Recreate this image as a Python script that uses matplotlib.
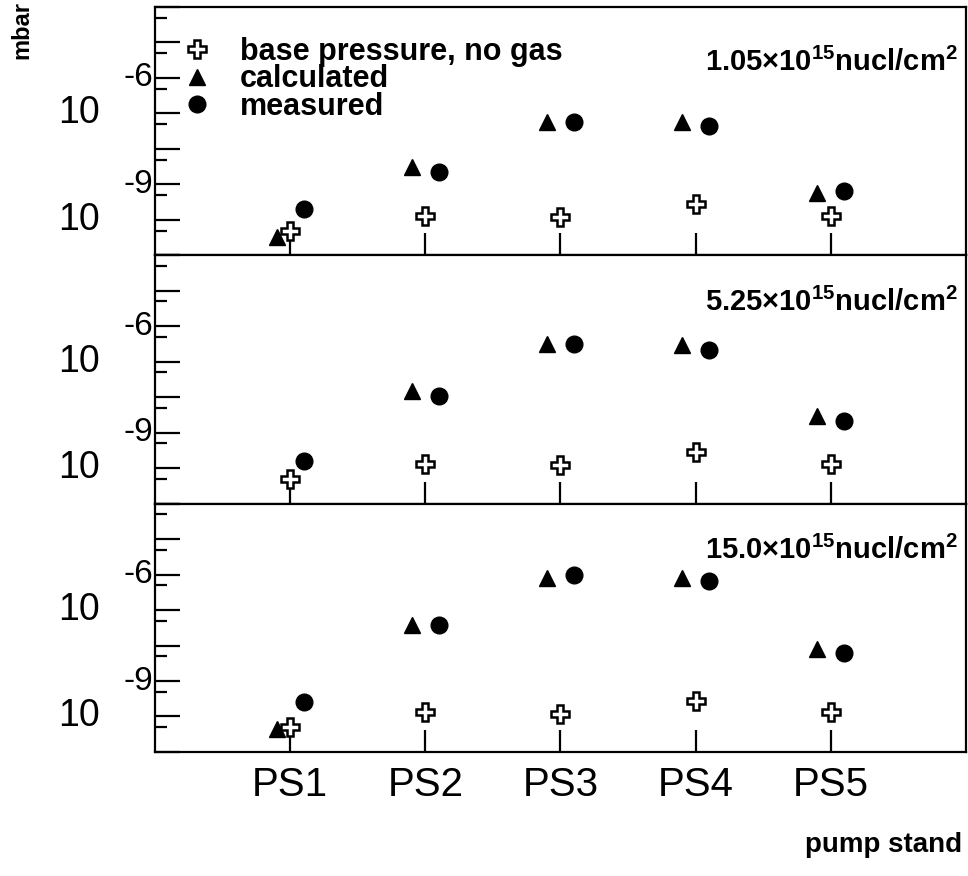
import numpy as np
import matplotlib
matplotlib.use("Agg")
import matplotlib.pyplot as plt
from matplotlib.ticker import LogLocator, NullFormatter, FixedLocator

plt.rcParams['font.family'] = ['Liberation Sans', 'DejaVu Sans']
plt.rcParams['mathtext.fontset'] = 'custom'
plt.rcParams['mathtext.bf'] = 'Liberation Sans:bold'
plt.rcParams['mathtext.rm'] = 'Liberation Sans'
plt.rcParams['mathtext.default'] = 'bf'

# pump stands
stands = ['PS1', 'PS2', 'PS3', 'PS4', 'PS5']

# base pressure without gas (mbar)
base = [5.0e-11, 1.3e-10, 1.2e-10, 2.8e-10, 1.3e-10]

# target thickness of each panel
targets = [r'1.05×10$^{15}$nucl/cm$^{2}$',
           r'5.25×10$^{15}$nucl/cm$^{2}$',
           r'15.0×10$^{15}$nucl/cm$^{2}$']

# calculated pressures (mbar), one list per target thickness
calc_105 = [3.2e-11, 3.0e-9, 5.6e-8, 5.6e-8, 5.6e-10]
calc_525 = [np.nan, 1.45e-8, 3.1e-7, 2.9e-7, 2.9e-9]
calc_150 = [4.4e-11, 3.8e-8, 7.9e-7, 7.9e-7, 8.1e-9]

# measured pressures (mbar)
meas_105 = [2.0e-10, 2.3e-9, 5.6e-8, 4.4e-8, 6.5e-10]
meas_525 = [1.55e-10, 1.1e-8, 3.1e-7, 2.1e-7, 2.1e-9]
meas_150 = [2.5e-10, 3.8e-8, 1.0e-6, 6.6e-7, 6.3e-9]

calc = [calc_105, calc_525, calc_150]
meas = [meas_105, meas_525, meas_150]

fig = plt.figure(figsize=(9.68, 8.76), dpi=100)
axes = fig.subplots(3, 1, sharex=True, gridspec_kw=dict(hspace=0))
fig.subplots_adjust(left=0.160, right=0.998, top=0.992, bottom=0.1416)

x = np.arange(1, len(stands) + 1)

for i, ax in enumerate(axes):
    ax.set_yscale('log')
    ax.set_ylim(1e-11, 1e-4)
    ax.set_xlim(0, 6)

    hb, = ax.plot(x, base, 'P', ms=13, mfc='white', mec='black', mew=1.8,
                  ls='none', zorder=4, label='base pressure, no gas')
    hc, = ax.plot(x - 0.1, calc[i], '^', ms=11, color='black', ls='none',
                  zorder=3, label='calculated')
    hm, = ax.plot(x + 0.1, meas[i], 'o', ms=12, color='black', ls='none',
                  zorder=3, label='measured')

    for s in ax.spines.values():
        s.set_linewidth(1.6)

    ax.yaxis.set_major_locator(LogLocator(base=10, numticks=20))
    ax.yaxis.set_minor_locator(LogLocator(base=10, subs=(5.0,), numticks=20))
    ax.yaxis.set_major_formatter(NullFormatter())
    ax.yaxis.set_minor_formatter(NullFormatter())
    ax.tick_params(axis='y', which='major', direction='in', length=18, width=1.6)
    ax.tick_params(axis='y', which='minor', direction='in', length=8.5, width=1.6)
    ax.tick_params(axis='x', which='major', direction='in', length=16, width=1.6,
                   labelsize=29, pad=10)
    ax.tick_params(axis='x', which='minor', length=0)
    ax.xaxis.set_major_locator(FixedLocator(x))

    # ROOT style exponent labels
    for e in (-6, -9):
        ax.text(-0.002, 10.0 ** e, str(e), transform=ax.get_yaxis_transform(),
                ha='right', va='center', fontsize=24)
        ax.text(-0.068, 10.0 ** (e - 1), '10', transform=ax.get_yaxis_transform(),
                ha='right', va='center', fontsize=27)

    ty = 0.742 if i == 0 else 0.777
    ax.text(0.990, ty, targets[i], transform=ax.transAxes, ha='right',
            va='baseline', fontsize=21, fontweight='bold')

    if i == 0:
        ax.legend(handles=[hb, hc, hm], loc='upper left',
                  bbox_to_anchor=(0.033, 0.88), frameon=False,
                  prop=dict(size=22, weight='bold'), handlelength=1.0,
                  handletextpad=0.9, labelspacing=-0.08, borderpad=0,
                  borderaxespad=0, numpoints=1)

axes[-1].set_xticks(x)
axes[-1].set_xticklabels(stands)

fig.text(22 / 968, 1 - 30 / 876, 'mbar', rotation=90, ha='center', va='center',
         fontsize=17, fontweight='bold')
fig.text(962 / 968, 1 - 845 / 876, 'pump stand', ha='right', va='center',
         fontsize=20, fontweight='bold')

fig.savefig('out.png', dpi=100)
